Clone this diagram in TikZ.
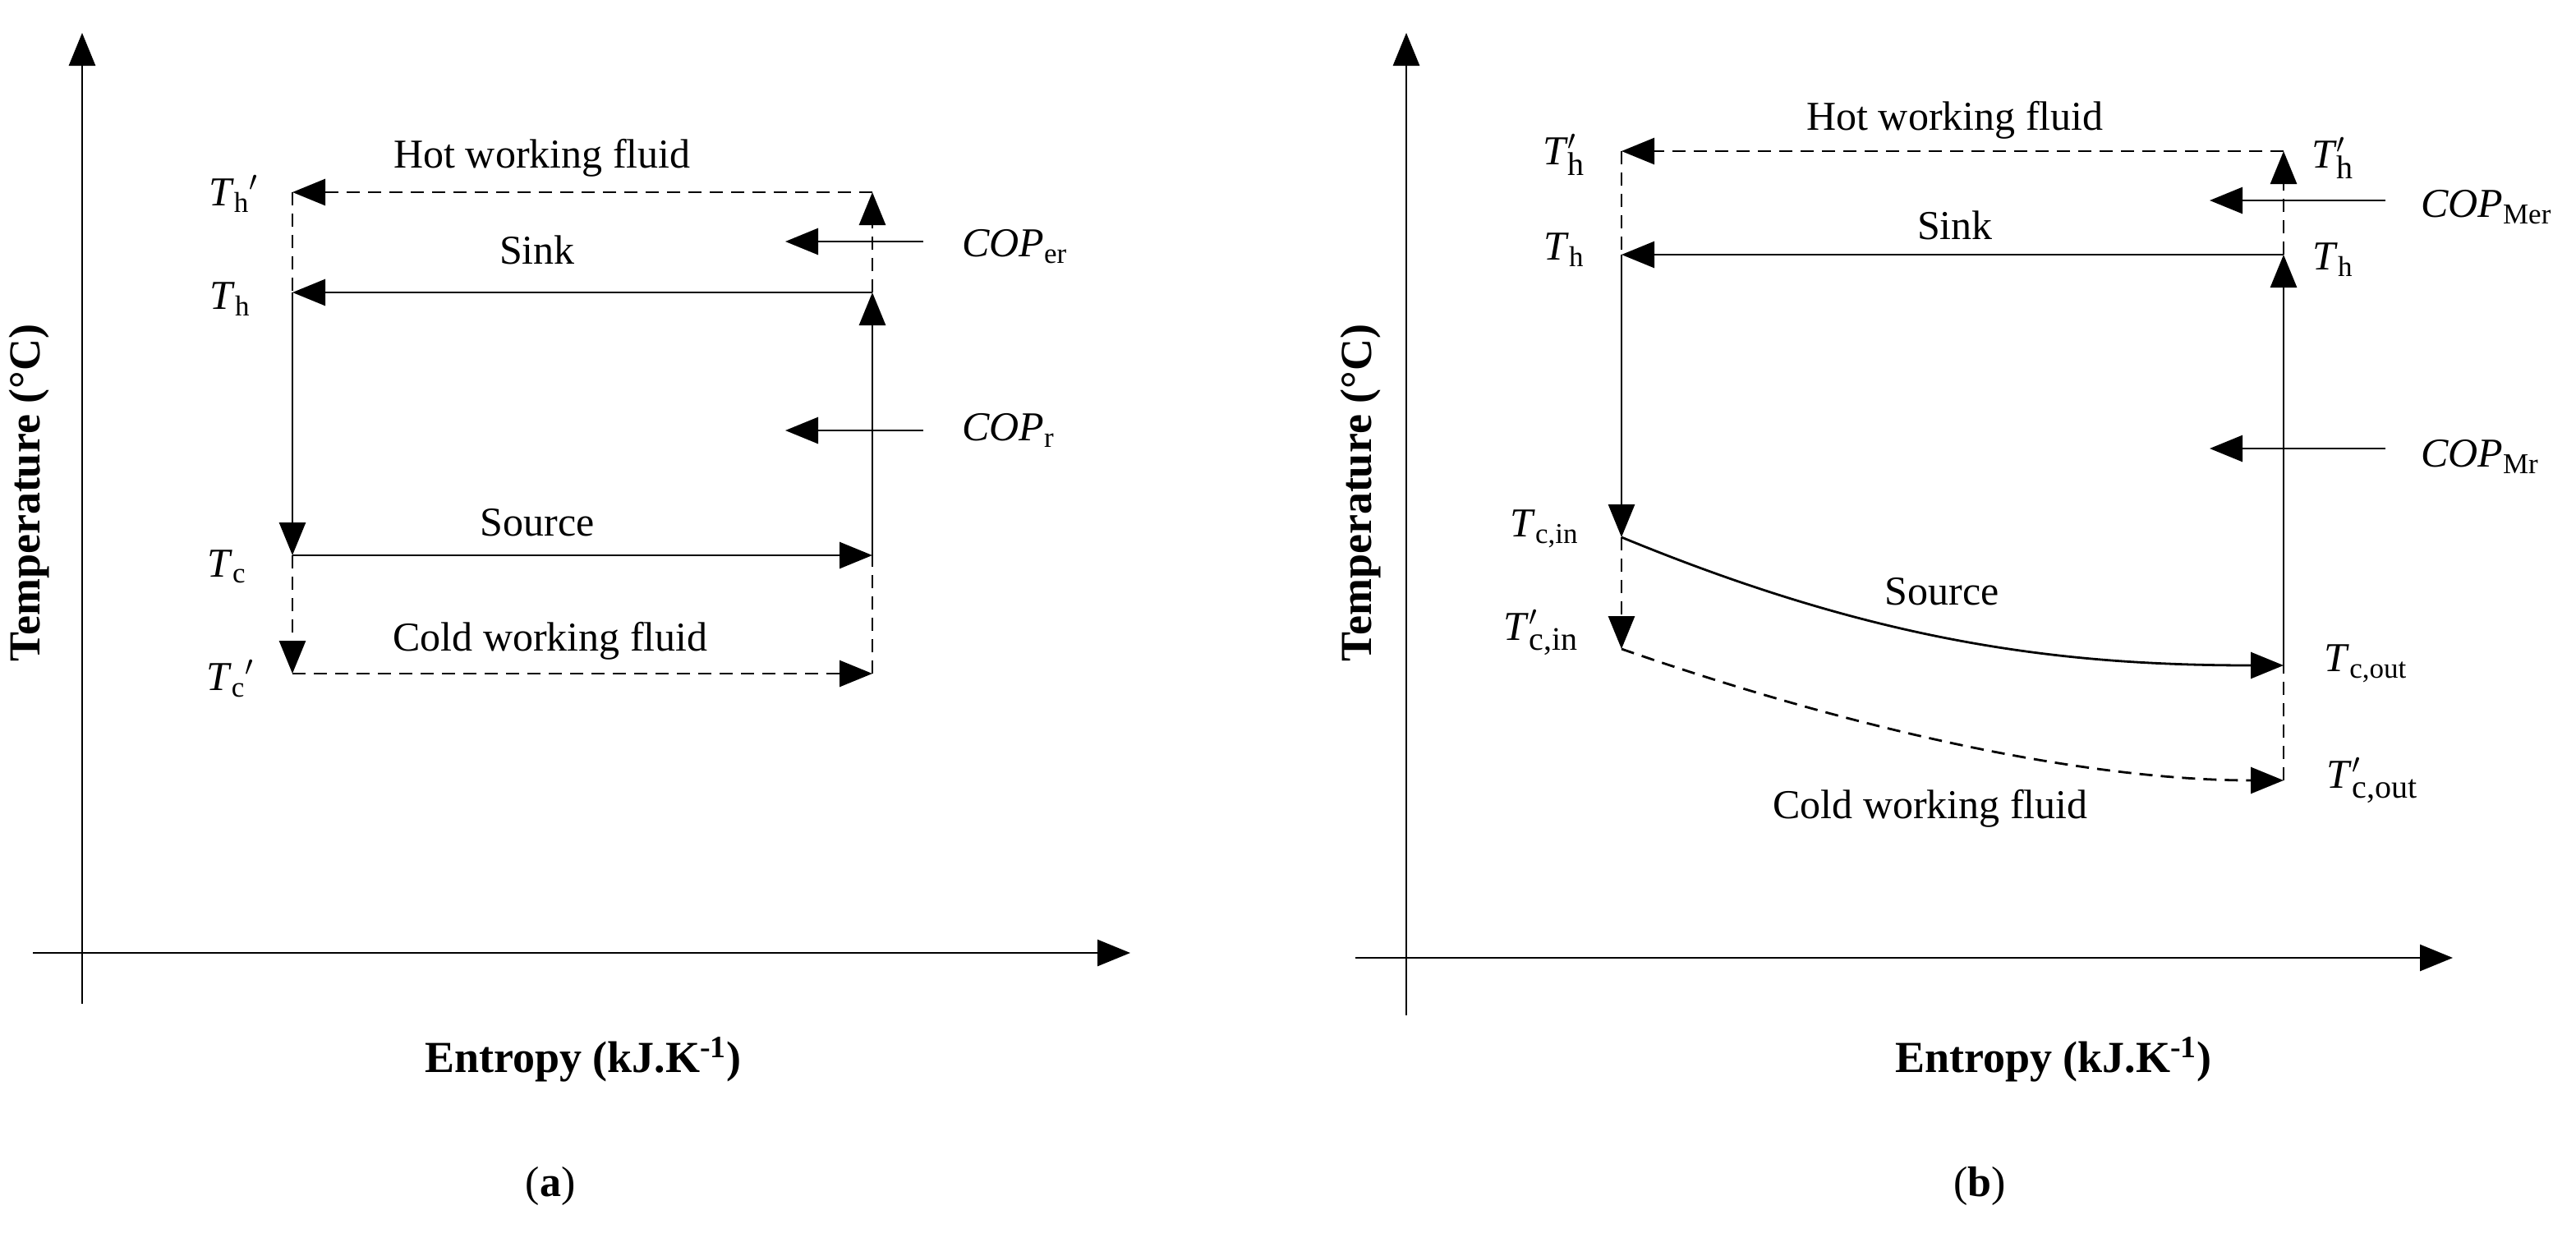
\documentclass[tikz,border=0pt]{standalone}
\usepackage{fontspec}
\setmainfont{Liberation Serif}
\usetikzlibrary{arrows.meta}
\newcommand\Tsub[1]{\textit{T}\textsubscript{#1}}
\newcommand\Tps[1]{\textit{T}$^{\prime}_{\mbox{\fontsize{20}{20}\selectfont #1}}$}
\begin{document}
\begin{tikzpicture}[x=1pt,y=-1pt,
  ln/.style={line width=1.4pt},
  ar/.style={ln,-{Triangle[length=20pt,width=16pt]}},
  dsh/.style={dash pattern=on 8pt off 5pt},
  lbl/.style={font=\fontsize{25}{25}\selectfont},
  ax/.style={font=\fontsize{27}{27}\selectfont\bfseries}]
\useasboundingbox (0,0) rectangle (1568,750);
% ---------- panel a
\coordinate (ay) at (50,20);
\coordinate (ax0) at (20,580);
\coordinate (ax1) at (688,580);
\coordinate (ay0) at (50,611);
\draw[ar] (ay0) -- (ay);
\draw[ar] (ax0) -- (ax1);
\coordinate (L1) at (178,117); \coordinate (R1) at (531,117);
\coordinate (L2) at (178,178); \coordinate (R2) at (531,178);
\coordinate (L3) at (178,338); \coordinate (R3) at (531,338);
\coordinate (L4) at (178,410); \coordinate (R4) at (531,410);
\draw[ar,dsh] (R1) -- (L1);
\draw[ar] (R2) -- (L2);
\draw[ar] (L3) -- (R3);
\draw[ar,dsh] (L4) -- (R4);
\draw[ln,dsh] (L1) -- (L2);
\draw[ar] (L2) -- (L3);
\draw[ar,dsh] (L3) -- (L4);
\draw[ln,dsh] (R4) -- (R3);
\draw[ar] (R3) -- (R2);
\draw[ar,dsh] (R2) -- (R1);
\coordinate (ce1) at (562,147); \coordinate (ce2) at (478,147);
\draw[ar] (ce1) -- (ce2);
\coordinate (cr1) at (562,262); \coordinate (cr2) at (478,262);
\draw[ar] (cr1) -- (cr2);
\node[lbl,anchor=west] (cer) at (582,150) {\textit{COP}\textsubscript{er}};
\node[lbl,anchor=west] (cr) at (582,262) {\textit{COP}\textsubscript{r}};
\node[lbl] (hw) at (330,96) {Hot working fluid};
\node[lbl] (sk) at (327,152) {Sink};
\node[lbl] (so) at (327,318) {Source};
\node[lbl] (cw) at (335,390) {Cold working fluid};
\node[lbl] (t1) at (142,118) {\Tsub{h}$'$};
\node[lbl] (t2) at (140,182) {\Tsub{h}};
\node[lbl] (t3) at (138,345) {\Tsub{c}};
\node[lbl] (t4) at (140,413) {\Tsub{c}$'$};
\node[ax,rotate=90] (ya) at (18,300) {Temperature (°C)};
\node[ax] (xa) at (355,645) {Entropy (kJ.K\textsuperscript{-1})};
\node[font=\fontsize{26}{26}\selectfont] (pa) at (335,722) {(\textbf{a})};
% ---------- panel b
\coordinate (by0) at (856,618); \coordinate (by) at (856,20);
\coordinate (bx0) at (825,583); \coordinate (bx1) at (1493,583);
\draw[ar] (by0) -- (by);
\draw[ar] (bx0) -- (bx1);
\coordinate (P1) at (987,92); \coordinate (Q1) at (1390,92);
\coordinate (P2) at (987,155); \coordinate (Q2) at (1390,155);
\coordinate (P3) at (987,327); \coordinate (Q3) at (1390,405);
\coordinate (P4) at (987,395); \coordinate (Q4) at (1390,475);
\draw[ar,dsh] (Q1) -- (P1);
\draw[ar] (Q2) -- (P2);
\draw[ar] (P3) .. controls (1140,390) and (1250,405) .. (Q3);
\draw[ar,dsh] (P4) .. controls (1160,455) and (1290,475) .. (Q4);
\draw[ln,dsh] (P1) -- (P2);
\draw[ar] (P2) -- (P3);
\draw[ar,dsh] (P3) -- (P4);
\draw[ln,dsh] (Q4) -- (Q3);
\coordinate (Qm) at (1390,300);
\draw[ln] (Q3) -- (Qm);
\draw[ar] (Qm) -- (Q2);
\draw[ar,dsh] (Q2) -- (Q1);
\coordinate (cm1) at (1452,122); \coordinate (cm2) at (1345,122);
\draw[ar] (cm1) -- (cm2);
\coordinate (cn1) at (1452,273); \coordinate (cn2) at (1345,273);
\draw[ar] (cn1) -- (cn2);
\node[lbl,anchor=west] (cmer) at (1470,126) {\textit{COP}\textsubscript{Mer}};
\node[lbl,anchor=west] (cmr) at (1470,278) {\textit{COP}\textsubscript{Mr}};
\node[lbl] (bhw) at (1190,73) {Hot working fluid};
\node[lbl] (bsk) at (1190,137) {Sink};
\node[lbl] (bso) at (1182,360) {Source};
\node[lbl] (bcw) at (1175,492) {Cold working fluid};
\node[lbl] (u1) at (952,94) {\Tps{h}};
\node[lbl] (u2) at (952,152) {\Tsub{h}};
\node[lbl] (u3) at (940,322) {\Tsub{c,in}};
\node[lbl] (u4) at (938,385) {\Tps{c,in}};
\node[lbl] (v1) at (1420,96) {\Tps{h}};
\node[lbl] (v2) at (1420,158) {\Tsub{h}};
\node[lbl] (v3) at (1440,404) {\Tsub{c,out}};
\node[lbl] (v4) at (1444,475) {\Tps{c,out}};
\node[ax,rotate=90] (yb) at (828,300) {Temperature (°C)};
\node[ax] (xb) at (1250,645) {Entropy (kJ.K\textsuperscript{-1})};
\node[font=\fontsize{26}{26}\selectfont] (pb) at (1205,722) {(\textbf{b})};
\end{tikzpicture}
\end{document}
